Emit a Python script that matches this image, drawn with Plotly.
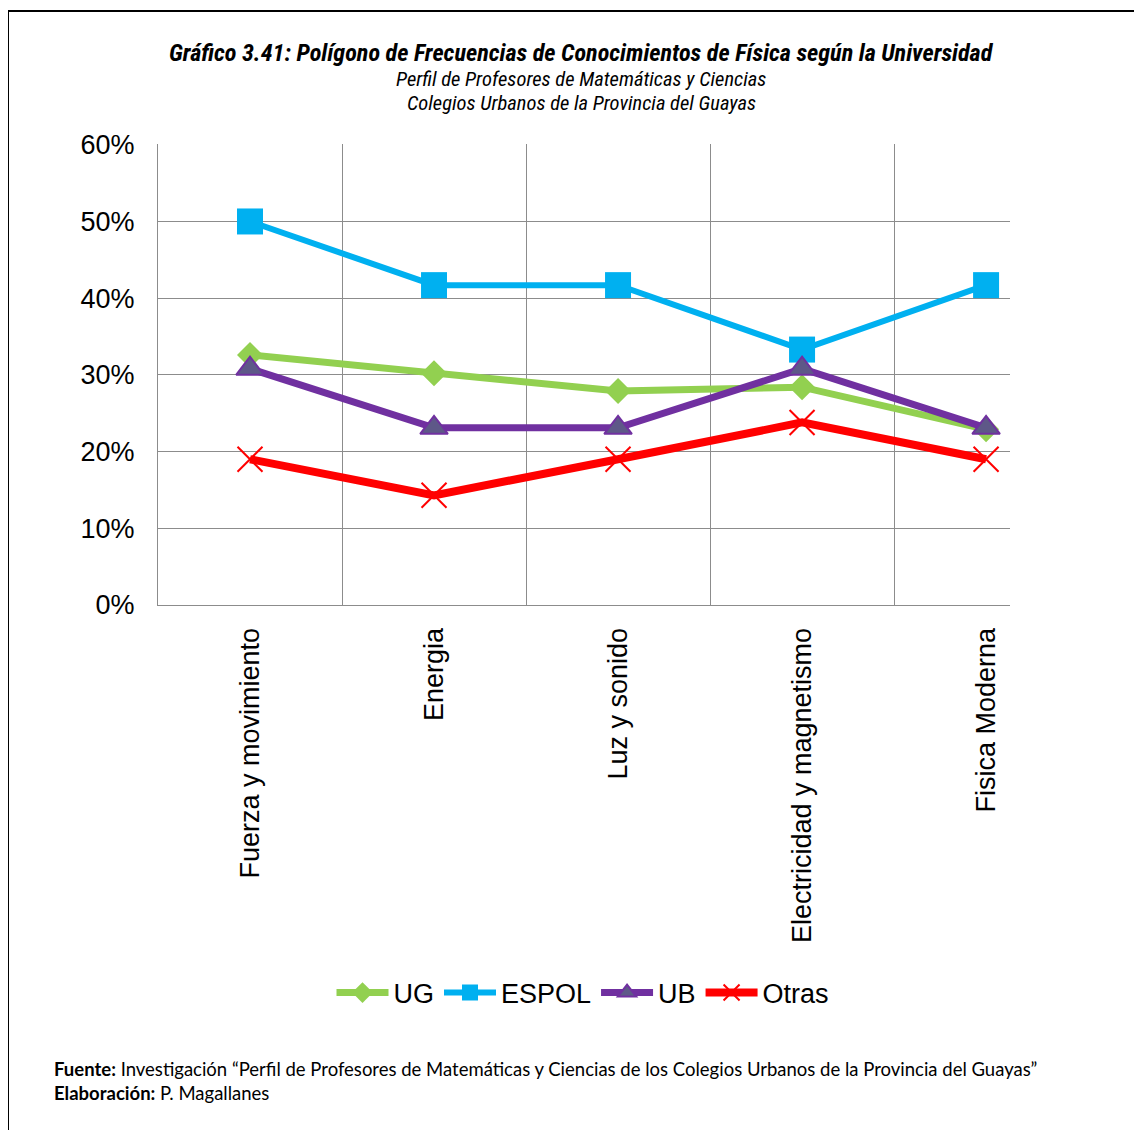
import plotly.graph_objects as go

categorias = ["Fuerza y movimiento", "Energia", "Luz y sonido", "Electricidad y magnetismo", "Fisica Moderna"]
ug = [0.326, 0.302, 0.279, 0.284, 0.229]
espol = [0.500, 0.417, 0.417, 0.333, 0.417]
ub = [0.308, 0.231, 0.231, 0.308, 0.231]
otras = [0.190, 0.143, 0.190, 0.238, 0.190]
y_ticks = [0, 0.1, 0.2, 0.3, 0.4, 0.5, 0.6]

OFF = 8  # page body margin
W, H = 1142 - OFF, 1130 - OFF
L, R, T, B = 158 - OFF, 1010 - OFF, 144 - OFF, 605 - OFF

def px_x(p):
    return (p - OFF - L) / (R - L)

def px_y(p):
    return (B - (p - OFF)) / (B - T)

fig = go.Figure()
fig.add_trace(go.Scatter(x=categorias, y=ug, name="UG", mode="lines+markers",
                         line=dict(color="#92D050", width=7),
                         marker=dict(symbol="diamond", size=20, color="#92D050"),
                         cliponaxis=False))
fig.add_trace(go.Scatter(x=categorias, y=espol, name="ESPOL", mode="lines+markers",
                         line=dict(color="#00B0F0", width=6),
                         marker=dict(symbol="square", size=26, color="#00B0F0"),
                         cliponaxis=False))
fig.add_trace(go.Scatter(x=categorias, y=ub, name="UB", mode="lines+markers",
                         line=dict(color="#7030A0", width=7),
                         marker=dict(symbol="triangle-up", size=24, color="#5E5888",
                                     line=dict(color="#7030A0", width=2)),
                         cliponaxis=False))
fig.add_trace(go.Scatter(x=categorias, y=otras, name="Otras", mode="lines+markers",
                         line=dict(color="#FF0000", width=8),
                         marker=dict(symbol="x-thin", size=25, color="#FF0000",
                                     line=dict(color="#FF0000", width=2)),
                         cliponaxis=False))

sans = "Liberation Sans, Arial, sans-serif"
fig.update_xaxes(type="category", range=[-0.5, 4.13], tickson="boundaries",
                 showgrid=True, gridcolor="#8C8C8C", gridwidth=1.3,
                 showline=True, linecolor="#8C8C8C", linewidth=1.3,
                 ticks="", tickangle=-90, ticklabelstandoff=11,
                 tickfont=dict(family=sans, size=27, color="#000"))
fig.update_yaxes(range=[0, 0.601], tickvals=y_ticks, tickformat=".0%",
                 showgrid=True, gridcolor="#8C8C8C", gridwidth=1.3,
                 showline=True, linecolor="#8C8C8C", linewidth=1.3,
                 zeroline=False, ticks="", ticklabelstandoff=17,
                 tickfont=dict(family=sans, size=27, color="#000"))

narrow = "Liberation Sans Narrow, Arial Narrow, Roboto Condensed, Liberation Sans, sans-serif"
foot = "Lato, Carlito, Calibri, sans-serif"
cx = px_x(581)
annotations = [
    dict(text="<b><i>Gráfico 3.41: Polígono de Frecuencias de Conocimientos de Física según la Universidad</i></b>",
         x=cx, y=px_y(53), font=dict(family=narrow, size=24.2, color="#000")),
    dict(text="<i>Perfil de Profesores de Matemáticas y Ciencias</i>",
         x=cx, y=px_y(79), font=dict(family=narrow, size=20.5, color="#000")),
    dict(text="<i>Colegios Urbanos de la Provincia del Guayas</i>",
         x=cx, y=px_y(103), font=dict(family=narrow, size=20.5, color="#000")),
    dict(text="<b>Fuente:</b> Investigación “Perfil de Profesores de Matemáticas y Ciencias de los Colegios Urbanos de la Provincia del Guayas”",
         x=px_x(52), y=px_y(1069), xanchor="left",
         font=dict(family=foot, size=18.5, color="#000")),
    dict(text="<b>Elaboración:</b> P. Magallanes",
         x=px_x(52), y=px_y(1093), xanchor="left",
         font=dict(family=foot, size=18.5, color="#000")),
]
for a in annotations:
    a.setdefault("xanchor", "center")
    a.update(xref="paper", yref="paper", yanchor="middle", showarrow=False)

fig.update_layout(
    width=W, height=H,
    margin=dict(l=L, r=W - R, t=T, b=H - B),
    paper_bgcolor="white", plot_bgcolor="white",
    showlegend=True,
    legend=dict(orientation="h", x=px_x(583), xanchor="center", y=px_y(993), yanchor="middle",
                font=dict(family=sans, size=27, color="#000"),
                itemwidth=52, tracegroupgap=0, bgcolor="rgba(0,0,0,0)"),
    annotations=annotations,
    shapes=[dict(type="rect", xref="paper", yref="paper",
                 x0=px_x(8), x1=px_x(1160), y0=px_y(11), y1=px_y(1160),
                 line=dict(color="#000", width=2), fillcolor="rgba(0,0,0,0)", layer="above")],
)

fig.write_html("out.html")
